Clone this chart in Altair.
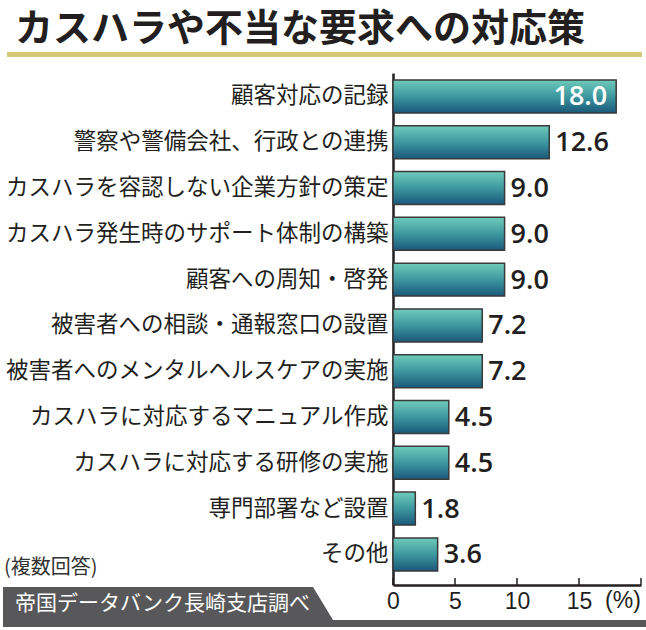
import altair as alt
import pandas as pd

categories = [
    "顧客対応の記録",
    "警察や警備会社、行政との連携",
    "カスハラを容認しない企業方針の策定",
    "カスハラ発生時のサポート体制の構築",
    "顧客への周知・啓発",
    "被害者への相談・通報窓口の設置",
    "被害者へのメンタルヘルスケアの実施",
    "カスハラに対応するマニュアル作成",
    "カスハラに対応する研修の実施",
    "専門部署など設置",
    "その他",
]
values = [18.0, 12.6, 9.0, 9.0, 9.0, 7.2, 7.2, 4.5, 4.5, 1.8, 3.6]
tick_values = [0, 5, 10, 15, 20]
axis_labels = [0, 5, 10, 15]

title_text = "カスハラや不当な要求への対応策"
note_text = "(複数回答)"
source_text = "帝国データバンク長崎支店調べ"
unit_text = "(%)"

df = pd.DataFrame({"item": categories, "value": values})
ticks_df = pd.DataFrame({"t": tick_values})

JP = "Noto Sans CJK JP"
NUM = "Open Sans, Liberation Sans, sans-serif"
TICKF = "Liberation Sans, sans-serif"
INK = "#231f20"

W, H = 248, 512

xscale = alt.Scale(domain=[0, 20], nice=False, zero=True)
yscale = alt.Scale(paddingInner=0.28, paddingOuter=0.23, align=0.33)

x_enc = alt.X(
    "value:Q",
    scale=xscale,
    axis=alt.Axis(
        values=axis_labels,
        title=None,
        grid=False,
        ticks=False,
        domain=True,
        domainColor=INK,
        domainWidth=2.5,
        labelFont=TICKF,
        labelFontSize=23,
        labelColor=INK,
        labelPadding=5,
        labelFlush=False,
    ),
)
y_enc = alt.Y(
    "item:N",
    sort=categories,
    scale=yscale,
    axis=alt.Axis(
        title=None,
        ticks=False,
        domain=True,
        domainColor=INK,
        domainWidth=2.5,
        labelFont=JP,
        labelFontSize=22.5,
        labelColor=INK,
        labelPadding=5,
        labelLimit=400,
    ),
)

grad = alt.Gradient(
    gradient="linear",
    stops=[
        alt.GradientStop(color="#6fcbba", offset=0),
        alt.GradientStop(color="#3d98a0", offset=0.5),
        alt.GradientStop(color="#1a587a", offset=1),
    ],
    x1=0, x2=0, y1=0, y2=1,
)

base = alt.Chart(df)

bars = base.mark_bar(color=grad, stroke="#3a3a3a", strokeWidth=1.5).encode(
    x=x_enc, y=y_enc
)

labels_out = base.transform_filter("datum.value < 15").mark_text(
    align="left", baseline="middle", dx=6, dy=1,
    font=NUM, fontSize=27, fontWeight=600, color=INK,
).encode(
    x=alt.X("value:Q", scale=xscale),
    y=alt.Y("item:N", sort=categories, scale=yscale),
    text=alt.Text("value:Q", format=".1f"),
)

labels_in = base.transform_filter("datum.value >= 15").mark_text(
    align="right", baseline="middle", dx=-9, dy=1,
    font=NUM, fontSize=27, fontWeight=600, color="white",
).encode(
    x=alt.X("value:Q", scale=xscale),
    y=alt.Y("item:N", sort=categories, scale=yscale),
    text=alt.Text("value:Q", format=".1f"),
)

tick_marks = alt.Chart(ticks_df).mark_rule(color=INK, strokeWidth=1.5).encode(
    x=alt.X("t:Q", scale=xscale),
    y=alt.value(H - 7),
    y2=alt.value(H),
)

one = alt.Data(values=[{"a": 1}])

title = alt.Chart(one).mark_text(
    align="left", baseline="middle", font=JP, fontSize=38,
    fontWeight="bold", color=INK,
).encode(x=alt.value(-378), y=alt.value(-43), text=alt.value(title_text))

underline = alt.Chart(one).mark_rect(color="#d6ca7a").encode(
    x=alt.value(-386), x2=alt.value(249), y=alt.value(-21), y2=alt.value(-16)
)

note = alt.Chart(one).mark_text(
    align="left", baseline="middle", font=JP, fontSize=20, color="#333333",
).encode(x=alt.value(-389), y=alt.value(495), text=alt.value(note_text))

unit = alt.Chart(one).mark_text(
    align="center", baseline="top", font=TICKF, fontSize=23, color=INK,
).encode(x=alt.value(230), y=alt.value(H + 5), text=alt.value(unit_text))

banner_pts = alt.Data(values=[
    {"px": -390, "top": 514, "bot": 554},
    {"px": -80, "top": 514, "bot": 554},
    {"px": -60, "top": 547, "bot": 554},
    {"px": 253, "top": 547, "bot": 554},
])
banner = alt.Chart(banner_pts).mark_area(color="#58585a", interpolate="linear").encode(
    x=alt.X("px:Q", scale=None),
    y=alt.Y("top:Q", scale=None),
    y2="bot:Q",
)

source = alt.Chart(one).mark_text(
    align="left", baseline="middle", font=JP, fontSize=21, color="white",
).encode(x=alt.value(-378), y=alt.value(531), text=alt.value(source_text))

chart = alt.layer(
    bars, labels_out, labels_in, tick_marks,
    title, underline, note, unit, banner, source,
).properties(
    width=W, height=H,
    padding={"left": 393, "top": 73, "right": 5, "bottom": 45},
    autosize="none",
    background="white",
).configure_view(stroke=None)

chart.save("out.html", embed_options={"renderer": "svg", "actions": False})
